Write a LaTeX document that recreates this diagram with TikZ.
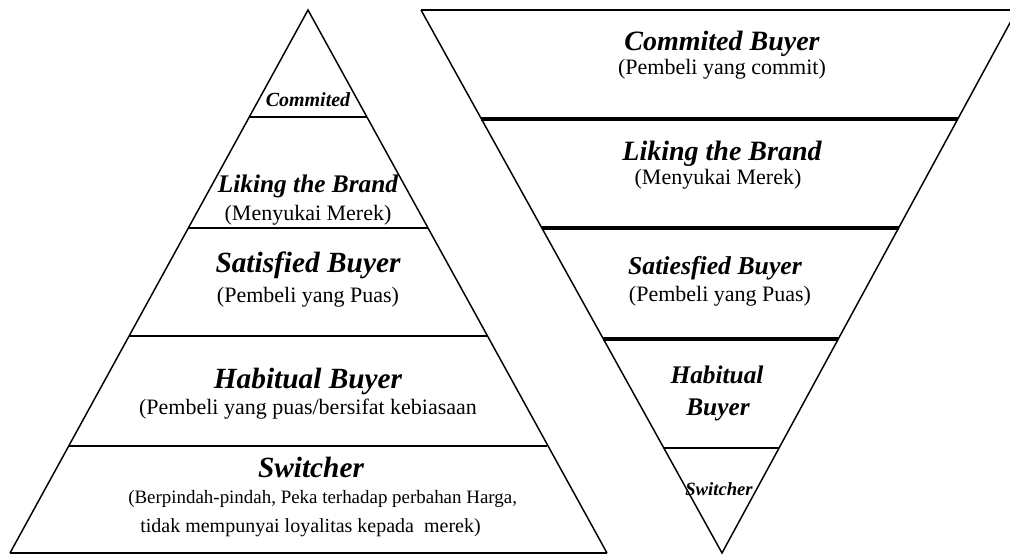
\documentclass[tikz,border=0pt]{standalone}
\usepackage{fontspec}
\setmainfont{Liberation Serif}
\begin{document}
\begin{tikzpicture}[x=0.75pt,y=-0.75pt,
  side/.style={line width=1.1pt},
  thinsep/.style={line width=1.5pt},
  thicksep/.style={line width=3pt},
  ttl/.style={font=\bfseries\itshape\fontsize{#1}{#1}\selectfont, anchor=base, inner sep=0pt},
  sub/.style={font=\fontsize{16.5}{21.75}\selectfont, anchor=base, inner sep=0pt},
  subsm/.style={font=\fontsize{#1}{21.75}\selectfont, anchor=base west, inner sep=0pt}]
\useasboundingbox (0,0) rectangle (1010,554);
% left pyramid
\coordinate (LA) at (308,10);
\coordinate (LBL) at (10,553);
\coordinate (LBR) at (607,553);
\draw[side, line join=miter] (LBL) -- (LA) -- (LBR);
\draw[thinsep] (LBL) -- (LBR);
\draw[thinsep] (249.3,117) -- (366.7,117);
\draw[thinsep] (188.4,228) -- (427.6,228);
\draw[thinsep] (129.1,336) -- (486.9,336);
\draw[thinsep] (68.7,446) -- (547.3,446);
\node[ttl=15] (l1) at (308,106) {Commited};
\node[ttl=19] (l2) at (308,192) {Liking the Brand};
\node[sub] (l2s) at (308,220) {(Menyukai Merek)};
\node[ttl=22] (l3) at (308,272) {Satisfied Buyer};
\node[sub] (l3s) at (308,302) {(Pembeli yang Puas)};
\node[ttl=22] (l4) at (308,388) {Habitual Buyer};
\node[sub] (l4s) at (308,414) {(Pembeli yang puas/bersifat kebiasaan};
\node[ttl=22] (l5) at (311,477) {Switcher};
\node[subsm=14.2] (l5s) at (128,503) {(Berpindah-pindah, Peka terhadap perbahan Harga,};
\node[subsm=15] (l5t) at (140,532) {tidak mempunyai loyalitas kepada \ merek)};
% right inverted pyramid
\coordinate (RTL) at (421,10);
\coordinate (RTR) at (1017,10);
\coordinate (RA) at (722,553);
\draw[side, line join=miter] (RTL) -- (RA) -- (RTR);
\draw[thinsep] (RTL) -- (RTR);
\draw[thicksep] (481.4,119) -- (957.8,119);
\draw[thicksep] (541.8,228) -- (898.6,228);
\draw[thicksep] (603.4,339) -- (838.3,339);
\draw[thinsep] (663.8,448) -- (779,448);
\node[ttl=21] (r1) at (722,50) {Commited Buyer};
\node[sub] (r1s) at (722,74) {(Pembeli yang commit)};
\node[ttl=21] (r2) at (722,160) {Liking the Brand};
\node[sub] (r2s) at (718,184) {(Menyukai Merek)};
\node[ttl=19.3] (r3) at (715,274) {Satiesfied Buyer};
\node[sub] (r3s) at (720,301) {(Pembeli yang Puas)};
\node[ttl=19] (r4) at (717,383) {Habitual};
\node[ttl=19] (r4b) at (718,415) {Buyer};
\node[ttl=14] (r5) at (719,495) {Switcher};
\end{tikzpicture}
\end{document}
